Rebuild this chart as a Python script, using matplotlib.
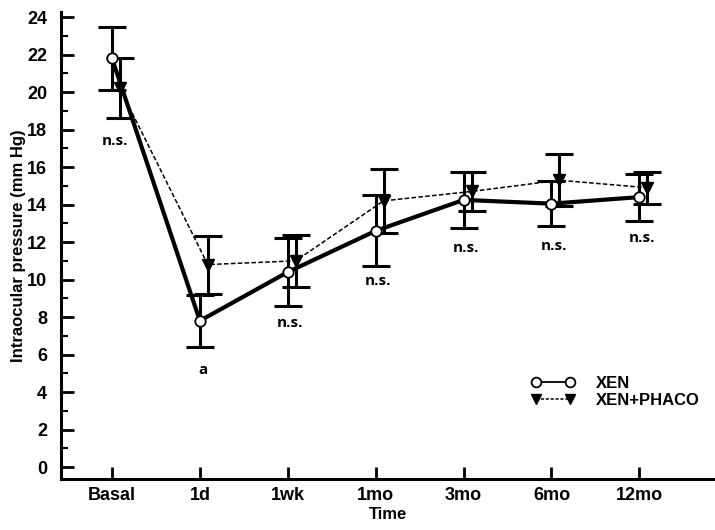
import numpy as np
import matplotlib
matplotlib.use("Agg")
import matplotlib.pyplot as plt
from matplotlib.lines import Line2D

plt.rcParams['font.family'] = ['Liberation Sans', 'DejaVu Sans']
plt.rcParams['font.weight'] = 'bold'

# time points
times = ['Basal', '1d', '1wk', '1mo', '3mo', '6mo', '12mo']

# XEN group (mean, sd)
xen_mean = [21.8, 7.8, 10.4, 12.6, 14.25, 14.05, 14.4]
xen_err = [1.7, 1.4, 1.8, 1.9, 1.5, 1.2, 1.25]

# XEN+PHACO group
phaco_mean = [20.2, 10.8, 11.0, 14.2, 14.7, 15.3, 14.9]
phaco_err = [1.6, 1.55, 1.4, 1.7, 1.05, 1.4, 0.85]

# significance labels and their heights
sig_text = ['n.s.', 'a', 'n.s.', 'n.s.', 'n.s.', 'n.s.', 'n.s.']
sig_y = [17.4, 5.2, 7.7, 9.9, 11.7, 11.8, 12.2]

x = np.arange(len(times))
x2 = x + 0.09

fig = plt.figure(figsize=(7.15, 5.3), dpi=100)
ax = fig.add_axes([0.0853, 0.0962, 0.9147, 0.881])

# error bars
ax.errorbar(x, xen_mean, yerr=xen_err, fmt='none', ecolor='black',
            elinewidth=2.2, capsize=10, capthick=2.2, zorder=2)
ax.errorbar(x2, phaco_mean, yerr=phaco_err, fmt='none', ecolor='black',
            elinewidth=2.2, capsize=10, capthick=2.2, zorder=2)

# lines
ax.plot(x2, phaco_mean, color='black', lw=1.1, ls=(0, (3, 1.5)),
        marker='v', markersize=8, markerfacecolor='black',
        markeredgecolor='black', zorder=3)
ax.plot(x, xen_mean, color='black', lw=3, marker='o', markersize=7.5,
        markerfacecolor='white', markeredgecolor='black', markeredgewidth=1.3,
        zorder=4)

for xi, t, yy in zip(x, sig_text, sig_y):
    ax.text(xi + 0.03, yy, t, ha='center', va='center', fontsize=11,
            family=['Open Sans', 'DejaVu Sans'], fontweight='bold')

ax.set_xlim(-0.58, 6.86)
ax.set_ylim(-0.64, 24.27)
ax.set_xticks(x)
ax.set_xticklabels(times)
ax.set_yticks(np.arange(0, 25, 2))
ax.set_yticks(np.arange(1, 25, 2), minor=True)

ax.spines['top'].set_visible(False)
ax.spines['right'].set_visible(False)
ax.spines['left'].set_linewidth(2.2)
ax.spines['bottom'].set_linewidth(2.2)
ax.tick_params(axis='both', which='major', direction='in', length=9,
               width=2, labelsize=13, pad=6)
ax.tick_params(axis='y', which='major', pad=10)
ax.tick_params(axis='y', which='minor', direction='in', length=5, width=1.5)
ax.tick_params(axis='x', which='minor', bottom=False)
for lab in ax.get_xticklabels() + ax.get_yticklabels():
    lab.set_fontweight('bold')

ax.set_xlabel('Time', fontsize=12, fontweight='bold', labelpad=2)
ax.set_ylabel('Intraocular pressure (mm Hg)', fontsize=12, fontweight='bold', labelpad=1)

# legend with thin handles
h_xen = Line2D([], [], color='black', lw=1.3, marker='o', markersize=7,
               markerfacecolor='white', markeredgewidth=1.3)
h_pha = Line2D([], [], color='black', lw=1.1, ls=(0, (2, 1.2)), marker='v',
               markersize=7, markerfacecolor='black')
fig.legend([h_xen, h_pha], ['XEN', 'XEN+PHACO'], loc='upper left',
           bbox_to_anchor=(0.743, 0.291), frameon=False, numpoints=2,
           handlelength=2.6, handletextpad=1.25, labelspacing=0.12,
           borderpad=0, borderaxespad=0,
           prop={'weight': 'bold', 'size': 12})

fig.savefig('out.png', dpi=100)
